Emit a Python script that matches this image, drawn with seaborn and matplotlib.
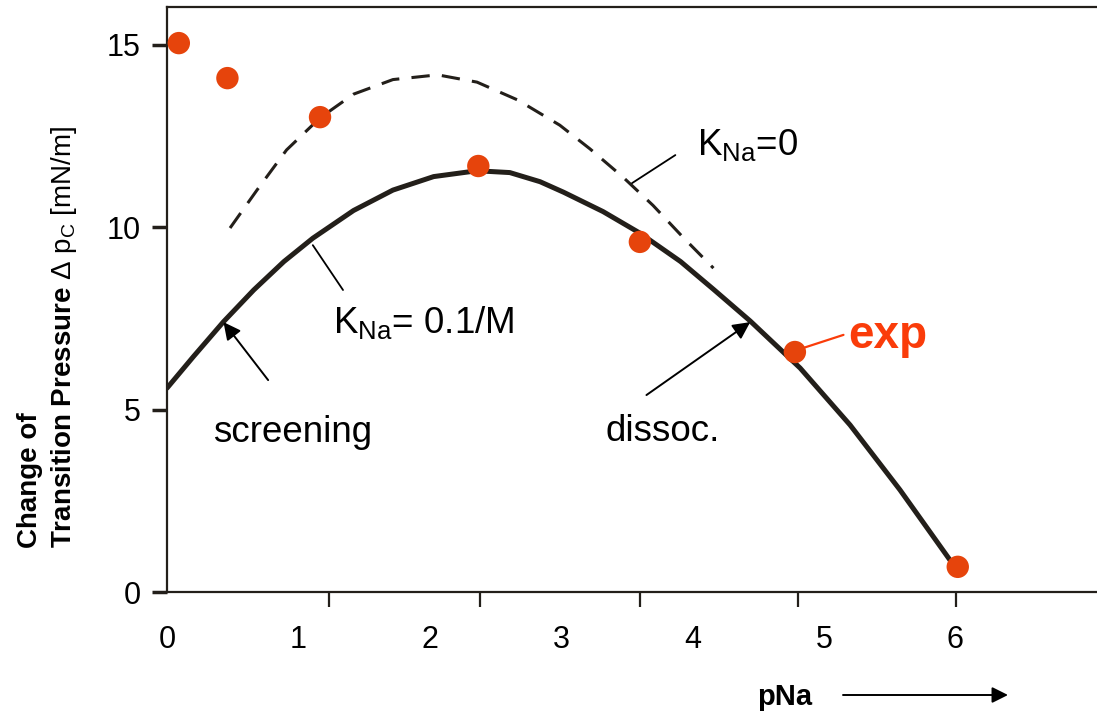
import numpy as np
import pandas as pd
import seaborn as sns
import matplotlib.pyplot as plt

# Model curve, K_Na = 0.1/M (solid line)
fit_x = [0.00, 0.20, 0.43, 0.66, 0.89, 1.11, 1.42, 1.72, 2.03, 2.36, 2.61, 2.84,
         3.02, 3.32, 3.60, 3.91, 4.16, 4.44, 4.82, 5.20, 5.58, 5.96, 6.02]
fit_y = [5.59, 6.45, 7.41, 8.28, 9.06, 9.70, 10.46, 11.02, 11.39, 11.55, 11.50, 11.25,
         10.96, 10.43, 9.84, 9.06, 8.30, 7.43, 6.14, 4.58, 2.80, 0.88, 0.62]

# Model curve, K_Na = 0 (dashed line)
k0_x = [0.48, 0.685, 0.91, 1.165, 1.42, 1.72, 2.06, 2.36, 2.67, 2.99, 3.22, 3.47, 3.70, 3.93, 4.16]
k0_y = [9.98, 11.02, 12.12, 13.00, 13.65, 14.05, 14.18, 13.98, 13.49, 12.80, 12.15, 11.38, 10.60, 9.72, 8.88]

# Experimental points
exp_x = [0.09, 0.46, 1.165, 2.37, 3.60, 4.78, 6.02]
exp_y = [15.05, 14.09, 13.02, 11.68, 9.60, 6.58, 0.69]

x_ticks = [0, 1, 2, 3, 4, 5, 6]
y_ticks = [0, 5, 10, 15]
x_marks = [0, 1.23, 2.38, 3.60, 4.80, 6.01]

ink = "#231f1a"
red_pts = "#e6440c"
red_txt = "#fa3c0a"

sns.set_theme(style="ticks")
plt.rcParams["font.family"] = ["Liberation Sans", "DejaVu Sans"]
plt.rcParams["text.color"] = "black"
plt.rcParams["mathtext.fontset"] = "custom"
plt.rcParams["mathtext.rm"] = "Liberation Sans"
plt.rcParams["mathtext.it"] = "Liberation Sans:italic"
plt.rcParams["mathtext.bf"] = "Liberation Sans:bold"

fig = plt.figure(figsize=(10.97, 7.15), dpi=100)
ax = fig.add_axes([167 / 1097, 1 - 592 / 715, 930 / 1097, 585 / 715])

df_fit = pd.DataFrame({"pNa": fit_x, "dp": fit_y})
df_k0 = pd.DataFrame({"pNa": k0_x, "dp": k0_y})
df_exp = pd.DataFrame({"pNa": exp_x, "dp": exp_y})

sns.lineplot(data=df_fit, x="pNa", y="dp", ax=ax, color=ink, lw=3.6, sort=False)
sns.lineplot(data=df_k0, x="pNa", y="dp", ax=ax, color=ink, lw=2.2, sort=False,
             linestyle=(0, (6, 4)))
sns.scatterplot(data=df_exp, x="pNa", y="dp", ax=ax, color=red_pts, s=260,
                edgecolor="none", zorder=4)

ax.set_xlim(0, 7.08)
ax.set_ylim(0, 16.04)
ax.set_xlabel("")
ax.set_ylabel("")

ax.set_xticks(x_ticks)
ax.set_xticks(x_marks, minor=True)
ax.set_yticks(y_ticks)
ax.tick_params(axis="x", which="major", length=0, pad=24, labelsize=22, labelcolor="black")
ax.tick_params(axis="x", which="minor", length=11, width=1.6, color=ink, bottom=True)
ax.tick_params(axis="y", which="major", length=11, width=2.5, color=ink, pad=8,
               labelsize=22, labelcolor="black", left=True)
ax.tick_params(axis="y", which="minor", left=False)

ax.spines["right"].set_visible(False)
for s in ["left", "bottom", "top"]:
    ax.spines[s].set_color(ink)
    ax.spines[s].set_linewidth(1.6)

# text labels and arrows
arrow_kw = dict(arrowstyle="-|>", color="black", lw=1.4, mutation_scale=26,
                shrinkA=0, shrinkB=0)
line_kw = dict(arrowstyle="-", color="black", lw=1.3, shrinkA=0, shrinkB=0)

ax.annotate("", xy=(0.43, 7.40), xytext=(0.77, 5.81), arrowprops=arrow_kw)
ax.text(0.35, 4.11, "screening", fontsize=26.5, ha="left", va="baseline")

ax.annotate("", xy=(4.44, 7.40), xytext=(3.65, 5.40), arrowprops=arrow_kw)
ax.text(3.335, 4.14, "dissoc.", fontsize=26.5, ha="left", va="baseline")

ax.annotate("", xy=(1.11, 9.51), xytext=(1.34, 8.28), arrowprops=line_kw)
ax.text(1.264, 7.10, r"K$_{\mathrm{Na}}$= 0.1/M", fontsize=26.5, ha="left", va="baseline")

ax.annotate("", xy=(3.54, 11.21), xytext=(3.87, 11.98), arrowprops=line_kw)
ax.text(4.036, 11.98, r"K$_{\mathrm{Na}}$=0", fontsize=26.5, ha="left", va="baseline")

ax.annotate("", xy=(4.80, 6.64), xytext=(5.15, 7.05),
            arrowprops=dict(arrowstyle="-", color=red_txt, lw=1.6, shrinkA=0, shrinkB=0))
ax.text(5.185, 6.69, "exp", fontsize=33, fontweight="bold", color=red_txt,
        ha="left", va="baseline")

# y label (two lines, mixed weight)
fig.text(30 / 1097, 1 - 548 / 715, "Change of", rotation=90, ha="center", va="bottom",
         fontsize=20, fontweight="bold")
fig.text(64 / 1097, 1 - 548 / 715,
         r"$\mathbf{Transition\ Pressure}$ $\Delta$ p$_{\mathrm{C}}$ [mN/m]",
         rotation=90, ha="center", va="bottom", fontsize=20)

# x label with arrow
fig.text(757 / 1097, 1 - 697 / 715, "pNa", fontsize=21, fontweight="bold",
         ha="left", va="center")
ax.annotate("", xy=(1008 / 1097, 1 - 695 / 715), xytext=(843 / 1097, 1 - 695 / 715),
            xycoords="figure fraction", textcoords="figure fraction",
            arrowprops=dict(arrowstyle="-|>", color="black", lw=1.4, mutation_scale=24,
                            shrinkA=0, shrinkB=0))

fig.savefig("out.png", dpi=100)
